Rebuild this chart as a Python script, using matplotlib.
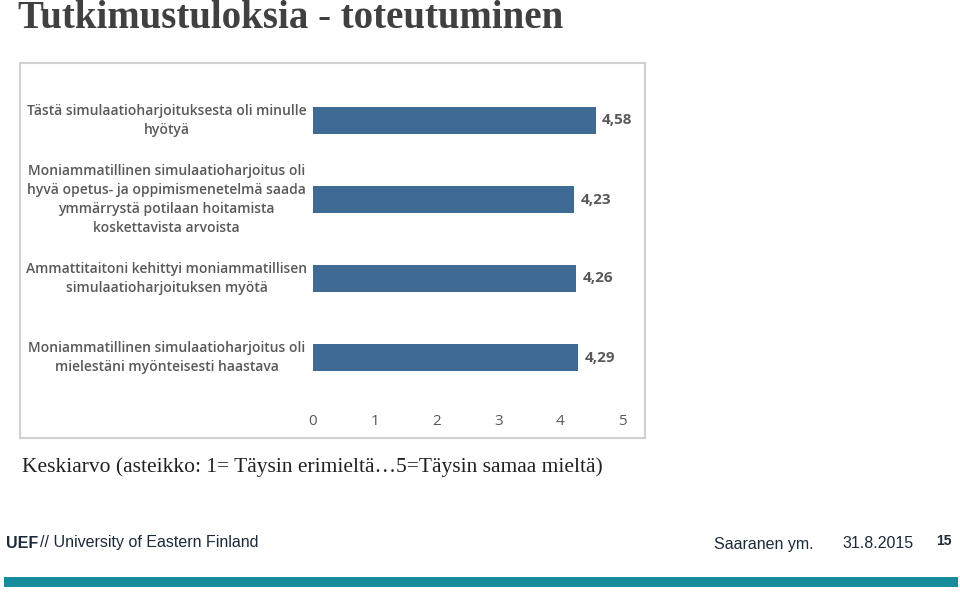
import matplotlib
matplotlib.use("Agg")
import matplotlib.pyplot as plt
from matplotlib.patches import Rectangle

categories = [
    "Tästä simulaatioharjoituksesta oli minulle\nhyötyä",
    "Moniammatillinen simulaatioharjoitus oli\nhyvä opetus- ja oppimismenetelmä saada\nymmärrystä potilaan hoitamista\nkoskettavista arvoista",
    "Ammattitaitoni kehittyi moniammatillisen\nsimulaatioharjoituksen myötä",
    "Moniammatillinen simulaatioharjoitus oli\nmielestäni myönteisesti haastava",
]
values = [4.58, 4.23, 4.26, 4.29]
value_labels = ["4,58", "4,23", "4,26", "4,29"]
xticks = [0, 1, 2, 3, 4, 5]

fig = plt.figure(figsize=(9.6, 5.92), dpi=100)
W, H = 960, 592

fig.text(18/W, 1-18/H, "Tutkimustuloksia - toteutuminen", fontsize=28, fontweight="bold",
         family="Liberation Serif", color="#404040", va="center", ha="left")

fig.patches.append(Rectangle((20/W, 1-438/H), 625/W, 375/H, transform=fig.transFigure,
                             fill=False, edgecolor="#d0d0d0", lw=1.5))

ax = fig.add_axes([313/W, 1-397/H, 309/W, 316/H])
pos = list(range(len(values)))
ax.barh(pos, values, height=0.35, color="#3e6a93")
ax.set_ylim(3.5, -0.5)
ax.set_xlim(0, 5)
ax.set_xticks(xticks)
ax.set_xticklabels([str(t) for t in xticks], fontsize=11, color="#595959", family="Open Sans")
ax.tick_params(axis="x", length=0, pad=12)
ax.set_yticks([])
for s in ax.spines.values():
    s.set_visible(False)
for p, v, lab in zip(pos, values, value_labels):
    ax.text(v + 0.1, p, lab, va="center", ha="left", fontsize=11, fontweight="bold",
            color="#595959", family="Open Sans")
for p, c in zip(pos, categories):
    ax.text(-2.37, p, c, va="center", ha="center", fontsize=10, color="#595959",
            fontweight="semibold", family="Open Sans", linespacing=1.45, clip_on=False)

fig.text(22/W, 1-467/H, "Keskiarvo (asteikko: 1= Täysin erimieltä…5=Täysin samaa mieltä)",
         fontsize=15.5, family="Liberation Serif", color="#202020", va="center", ha="left")

fig.text(6/W, 1-543/H, "UEF", fontsize=11.5, fontweight="bold", family="Liberation Sans",
         color="#1a2a3a", va="center")
fig.text(40/W, 1-543/H, "// University of Eastern Finland", fontsize=11.5, family="Liberation Sans",
         color="#1a2a3a", va="center")
fig.text(714/W, 1-544/H, "Saaranen ym.", fontsize=11.5, family="Liberation Sans", color="#1a2a3a", va="center")
fig.text(842/W, 1-544/H, "31.8.2015", fontsize=11.5, family="Liberation Sans", color="#1a2a3a", va="center")
fig.text(936/W, 1-541/H, "15", fontsize=10, fontweight="bold", family="Liberation Sans", color="#1a2a3a", va="center")
fig.patches.append(Rectangle((4/W, 1-587/H), 954/W, 10/H, transform=fig.transFigure,
                             color="#168c9c", lw=0))

fig.savefig("out.png", dpi=100)
